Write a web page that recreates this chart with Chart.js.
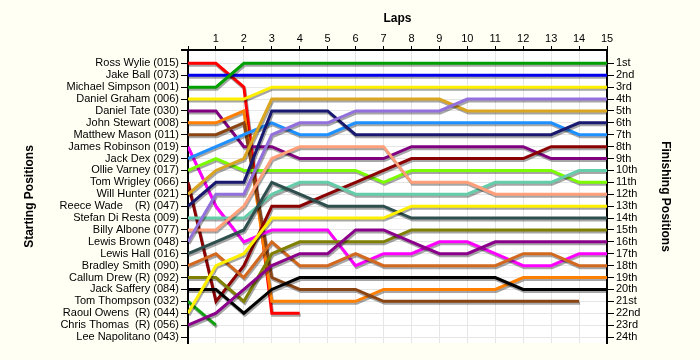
<!DOCTYPE html>
<html>
<head>
<meta charset="utf-8">
<script src="https://cdn.jsdelivr.net/npm/chart.js@4.4.1/dist/chart.umd.min.js"></script>
<style>
  html, body { margin: 0; padding: 0; background: #fffff4; }
  #wrap { width: 700px; height: 360px; }
</style>
</head>
<body>
<div id="wrap"><canvas id="c" width="700" height="360"></canvas></div>
<script>
// ---- Data ----
const laps = [0,1,2,3,4,5,6,7,8,9,10,11,12,13,14,15];
const startNames = [
  "Ross Wylie (015)", "Jake Ball (073)", "Michael Simpson (001)", "Daniel Graham (006)",
  "Daniel Tate (030)", "John Stewart (008)", "Matthew Mason (011)", "James Robinson (019)",
  "Jack Dex (029)", "Ollie Varney (017)", "Tom Wrigley (066)", "Will Hunter (021)",
  "Reece Wade    (R) (047)", "Stefan Di Resta (009)", "Billy Albone (077)", "Lewis Brown (048)",
  "Lewis Hall (016)", "Bradley Smith (090)", "Callum Drew (R) (092)", "Jack Saffery (084)",
  "Tom Thompson (032)", "Raoul Owens  (R) (044)", "Chris Thomas  (R) (056)", "Lee Napolitano (043)"
];
const finishLabels = ["1st","2nd","3rd","4th","5th","6th","7th","8th","9th","10th","11th","12th",
  "13th","14th","15th","16th","17th","18th","19th","20th","21st","22nd","23rd","24th"];

// positions per lap (lap 0 = starting position)
const rossWylie      = [1,1,3,22,22];
const jakeBall       = [2,2,2,2,2,2,2,2,2,2,2,2,2,2,2,2];
const michaelSimpson = [3,3,1,1,1,1,1,1,1,1,1,1,1,1,1,1];
const danielGraham   = [4,4,4,3,3,3,3,3,3,3,3,3,3,3,3,3];
const danielTate     = [5,5,8,8,9,9,9,9,8,8,8,8,8,9,9,9];
const johnStewart    = [6,6,5,21,21,21,21,20,20,20,20,20,19,19,19,19];
const matthewMason   = [7,7,6,19,20,20,20,21,21,21,21,21,21,21,21];
const jamesRobinson  = [8,13,16,15,15,15,18,17,17,16,16,17,18,18,17,17];
const jackDex        = [9,8,7,6,7,7,6,6,6,6,6,6,6,6,7,7];
const ollieVarney    = [10,9,10,10,10,10,10,11,10,10,10,10,10,10,11,11];
const tomWrigley     = [11,21,18,13,13,12,11,10,9,9,9,9,9,8,8,8];
const willHunter     = [12,10,9,4,4,4,4,4,4,4,5,5,5,5,5,5];
const reeceWade      = [13,11,11,5,5,5,7,7,7,7,7,7,7,7,6,6];
const stefanDiResta  = [14,14,14,12,11,11,12,12,12,12,12,11,11,11,10,10];
const billyAlbone    = [15,15,13,9,8,8,8,8,11,11,11,12,12,12,12,12];
const lewisBrown     = [16,12,12,7,6,6,5,5,5,5,4,4,4,4,4,4];
const lewisHall      = [17,16,15,11,12,13,13,13,14,14,14,14,14,14,14,14];
const bradleySmith   = [18,17,19,16,18,18,17,18,18,18,18,18,17,17,18,18];
const callumDrew     = [19,19,21,17,16,16,16,16,15,15,15,15,15,15,15,15];
const jackSaffery    = [20,20,22,20,19,19,19,19,19,19,19,19,20,20,20,20];
const tomThompson    = [21,23];
const raoulOwens     = [22,18,17,14,14,14,14,14,13,13,13,13,13,13,13,13];
const chrisThomas    = [23,22,20,18,17,17,15,15,16,17,17,16,16,16,16,16];
const leeNapolitano  = [];

const driverSeries = [rossWylie, jakeBall, michaelSimpson, danielGraham, danielTate, johnStewart,
  matthewMason, jamesRobinson, jackDex, ollieVarney, tomWrigley, willHunter, reeceWade,
  stefanDiResta, billyAlbone, lewisBrown, lewisHall, bradleySmith, callumDrew, jackSaffery,
  tomThompson, raoulOwens, chrisThomas, leeNapolitano];

// ---- Styles ----
const lineColors = ["#ff0000","#0000ee","#00a000","#fff000","#800080","#ff8000","#8b4513","#ff00ff",
  "#1e90ff","#7cfc00","#8b0000","#daa520","#191970","#66cdaa","#ffa07a","#9370db","#2f4f4f",
  "#d2691e","#808000","#000000","#10a010","#fff000","#8b008b","#888888"];

const positions = startNames.map((_, i) => i + 1);

const datasets = driverSeries.map((arr, i) => ({
  label: startNames[i],
  data: arr.map((v, k) => ({ x: laps[k], y: v })),
  borderColor: lineColors[i],
  backgroundColor: lineColors[i],
  borderWidth: 3,
  pointRadius: 0,
  tension: 0,
  fill: false,
  yAxisID: 'y'
})).reverse();

const shadowPlugin = {
  id: 'shadow',
  beforeDatasetDraw(chart) {
    const c = chart.ctx; c.save();
    c.shadowColor = 'rgba(0,0,0,0.35)'; c.shadowOffsetX = 1; c.shadowOffsetY = 2; c.shadowBlur = 0;
  },
  afterDatasetDraw(chart) { chart.ctx.restore(); }
};
const bgPlugin = {
  id: 'bg',
  beforeDraw(chart) {
    const { ctx, chartArea: a } = chart;
    ctx.save();
    ctx.fillStyle = '#fffff4'; ctx.fillRect(0, 0, chart.width, chart.height);
    ctx.fillStyle = '#ffffff'; ctx.fillRect(a.left, a.top, a.right - a.left, a.bottom - a.top);
    ctx.restore();
  },
  afterDraw(chart) {
    const { ctx, chartArea: a } = chart;
    ctx.save();
    ctx.strokeStyle = '#000'; ctx.lineWidth = 2;
    ctx.beginPath(); ctx.moveTo(a.left - 7, a.top); ctx.lineTo(a.left, a.top); ctx.stroke();
    ctx.restore();
  }
};

const font11 = { family: "'Liberation Sans', Arial, sans-serif", size: 11 };
const titleFont = { family: "'Liberation Sans', Arial, sans-serif", size: 12, weight: 'bold' };
const posTicks = (scale) => { scale.ticks = positions.map(v => ({ value: v })); };

new Chart(document.getElementById('c'), {
  type: 'line',
  data: { datasets },
  plugins: [bgPlugin, shadowPlugin],
  options: {
    responsive: false,
    devicePixelRatio: 1,
    animation: false,
    events: [],
    layout: { padding: { top: 0, left: 0, right: 0, bottom: 17 } },
    plugins: { legend: { display: false }, tooltip: { enabled: false } },
    scales: {
      x: {
        type: 'linear', position: 'top', min: 0, max: 15,
        afterBuildTicks: (s) => { s.ticks = laps.map(v => ({ value: v })); },
        afterFit: (s) => { s.height = 50; },
        ticks: { font: font11, color: '#000', padding: 0, maxRotation: 0,
          callback: (v) => v === 0 ? '' : String(v) },
        grid: { color: '#e6e6e6', lineWidth: 1, tickColor: '#000', tickLength: 4 },
        border: { display: true, color: '#000', width: 2 },
        title: { display: true, text: 'Laps', font: titleFont, color: '#000', padding: { top: 11, bottom: 0 } }
      },
      y: {
        type: 'linear', position: 'left', reverse: true, min: -0.12, max: 24.5,
        afterBuildTicks: posTicks,
        afterFit: (s) => { s.width = 188; },
        ticks: { font: font11, color: '#000', padding: 2, autoSkip: false,
          callback: (v) => startNames[v - 1] || '' },
        grid: { color: '#e6e6e6', lineWidth: 1, tickColor: '#000', tickLength: 7 },
        border: { display: true, color: '#000', width: 2 },
        title: { display: true, text: 'Starting Positions', font: titleFont, color: '#000', padding: { top: 22, bottom: 0 } }
      },
      y2: {
        type: 'linear', position: 'right', reverse: true, min: -0.12, max: 24.5,
        afterBuildTicks: posTicks,
        afterFit: (s) => { s.width = 93; },
        ticks: { font: font11, color: '#000', padding: 2, autoSkip: false,
          callback: (v) => finishLabels[v - 1] || '' },
        grid: { drawOnChartArea: false, tickColor: '#000', tickLength: 7 },
        border: { display: true, color: '#000', width: 2 },
        title: { display: true, text: 'Finishing Positions', font: titleFont, color: '#000', padding: { top: 27, bottom: 0 } }
      }
    }
  }
});
</script>
</body>
</html>
